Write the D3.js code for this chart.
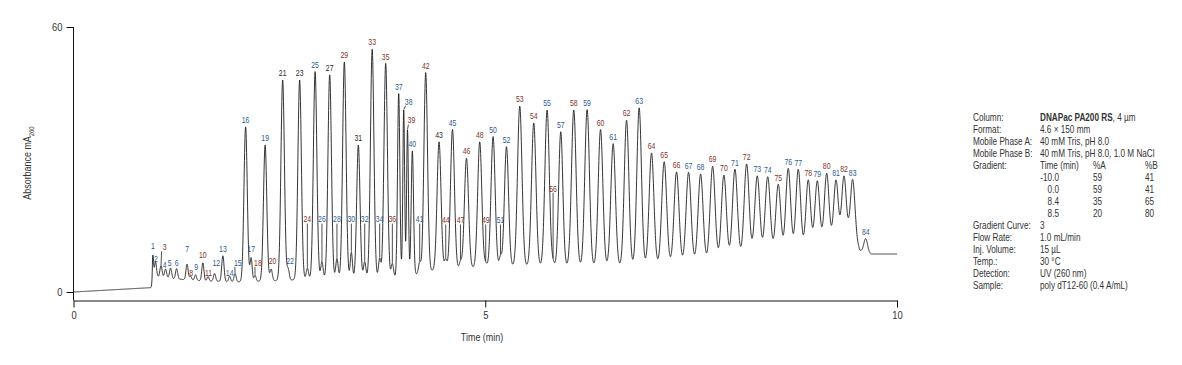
<!DOCTYPE html>
<html><head><meta charset="utf-8">
<script src="https://cdn.jsdelivr.net/npm/d3@7"></script>
<style>
body{margin:0;background:#fff;}
svg{display:block;}
text{font-family:'Liberation Sans',Arial,sans-serif;}
</style></head><body>
<svg id="chart" width="1182" height="365"></svg>
<script>
// ---- data ----
const peakTime = [0.964,0.996,1.063,1.118,1.179,1.252,1.379,1.422,1.482,1.571,
 1.634,1.713,1.814,1.896,1.962,2.090,2.157,2.205,2.327,2.400,
 2.540,2.606,2.746,2.840,2.934,3.017,3.111,3.199,3.289,3.374,
 3.459,3.536,3.627,3.718,3.791,3.872,3.949,4.010,4.056,4.115,
 4.204,4.277,4.439,4.520,4.602,4.772,4.699,4.933,5.006,5.095,
 5.185,5.258,5.419,5.589,5.751,5.824,5.917,6.075,6.237,6.400,
 6.553,6.716,6.869,7.019,7.173,7.323,7.469,7.615,7.761,7.898,
 8.032,8.174,8.303,8.430,8.558,8.679,8.801,8.922,9.032,9.146,
 9.259,9.356,9.462,9.620];
const peakHeight = [8.4,6.9,6.0,5.2,5.4,5.3,6.3,3.6,3.9,6.6,
 3.5,4.2,8.2,3.6,4.2,37.4,7.8,3.8,33.3,5.2,
 48.0,5.5,48.0,5.4,49.9,6.9,49.2,7.6,52.1,9.0,
 33.3,6.9,55.0,7.7,51.8,6.5,45.0,41.2,36.7,32.0,
 6.9,49.7,34.0,7.6,36.8,30.3,7.2,34.0,6.9,35.2,
 8.4,32.9,42.1,38.3,41.2,7.6,36.3,41.2,41.3,36.8,
 33.6,38.9,41.7,31.5,29.5,27.2,27.1,26.7,28.5,26.5,
 27.8,29.0,26.3,26.1,24.4,28.0,27.8,25.4,25.2,26.9,
 25.4,26.3,25.5,12.1];
const peakWidth = [0.008,0.012,0.013,0.013,0.013,0.013,0.013,0.012,0.012,0.013,
 0.012,0.013,0.014,0.012,0.013,0.020,0.013,0.012,0.020,0.014,
 0.021,0.014,0.021,0.014,0.021,0.014,0.021,0.014,0.021,0.013,
 0.020,0.014,0.021,0.014,0.021,0.014,0.014,0.011,0.011,0.014,
 0.014,0.022,0.024,0.014,0.024,0.025,0.014,0.025,0.014,0.025,
 0.014,0.025,0.027,0.027,0.027,0.014,0.025,0.028,0.028,0.028,
 0.028,0.028,0.028,0.029,0.030,0.030,0.030,0.030,0.030,0.030,
 0.030,0.030,0.030,0.030,0.029,0.029,0.028,0.027,0.027,0.027,
 0.026,0.026,0.026,0.022];
const baseTime  = [0,0.955,0.960,1.20,1.60,2.00,2.50,3.00,3.50,4.00,4.40,4.80,5.20,5.90,6.30,7.00,7.40,7.70,7.96,8.24,8.50,8.62,8.86,9.00,9.20,9.41,9.50,9.55,9.69,10.0];
const baseValue = [0,1.0,3.6,3.0,2.5,2.3,2.6,3.0,3.2,3.4,5.0,5.4,5.8,5.8,5.6,5.8,6.2,6.7,7.3,8.3,9.0,9.0,10.0,11.2,12.2,13.6,12.0,9.4,8.6,8.6];
const labelColorCode = "bbrbbbbrbr"+"rbbbbbbrbr"+"kbkrbbkbrb"+"kbrbrrbbrb"+"brkrbrrrrb"+"bbrrbrbrbr"+"brbrrrbbrr"+"brbbrbbrbr"+"brbb";
// label placement overrides: [time offset (min), label value (mA), leader line]
const labelPlace = {1:[0,10.4],2:[0.006,7.6],3:[0.043,10.2,1],4:[-0.012,6.2],5:[-0.012,6.7],6:[0,6.7],
 7:[0,9.7],8:[0.008,4.3],9:[0.008,5.8],10:[0,8.4],11:[0.006,4.4],12:[0.02,6.7],13:[0,9.7],14:[0,4.4],
 15:[0.034,6.7,1],17:[0,9.7],18:[0.034,6.7,1],20:[0.018,7.1],22:[0.024,7.1],
 24:[0,16.5,1],26:[0,16.5,1],28:[0,16.5,1],30:[0,16.5,1],32:[0,16.5,1],34:[0,16.5,1],36:[0,16.5,1],
 38:[0.06,43.2,1],39:[0.047,38.9,1],41:[0,16.5,1],44:[0,16.3,1],47:[0,16.3,1],49:[0,16.3,1],51:[0,16.3,1],56:[0,23.5,1]};
const xTicks = [0,5,10];
const yTicks = [0,60];
const gradTime = ["-10.0","0.0","8.4","8.5"];
const gradA = ["59","59","35","20"];
const gradB = ["41","41","65","80"];
const infoLabels = ["Column:","Format:","Mobile Phase A:","Mobile Phase B:","Gradient:"];
const infoValues = ["4.6 \u00d7 150 mm","40 mM Tris, pH 8.0","40 mM Tris, pH 8.0, 1.0 M NaCl"];
const infoLabels2 = ["Gradient Curve:","Flow Rate:","Inj. Volume:","Temp.:","Detection:","Sample:"];
const infoValues2 = ["3","1.0 mL/min","15 \u00b5L","30 \u00b0C","UV (260 nm)","poly dT12-60 (0.4 A/mL)"];

// ---- drawing ----
const svg = d3.select("#chart");
const x = d3.scaleLinear().domain([0,10]).range([73.5,897]);
const y = d3.scaleLinear().domain([0,60]).range([292,27]);
const base = d3.scaleLinear().domain(baseTime).range(baseValue).clamp(true);

// condensed text helper
function ctext(parent, px, py, s, sx, anchor){
  return parent.append("text").attr("transform",`translate(${px},${py}) scale(${sx},1)`)
    .attr("text-anchor",anchor||"start").text(s);
}

const peaks = peakTime.map((t,i)=>({n:i+1,t,v:peakHeight[i],s:peakWidth[i],h:0}));
const g = (t,p)=>{const d=(t-p.t)/p.s; return Math.abs(d)>7?0:Math.exp(-0.5*d*d);};
peaks.forEach(p=>p.h=Math.max(0.2,p.v-base(p.t)));
for(let it=0;it<20;it++){
  peaks.forEach(p=>{
    let o=0; peaks.forEach(q=>{if(q!==p)o+=q.h*g(p.t,q);});
    p.h=Math.max(0.2,p.v-base(p.t)-o);
  });
}
const samples=[];
for(let k=0;k<=5000;k++){
  const t=k*0.002; let v=base(t);
  peaks.forEach(p=>{v+=p.h*g(t,p);});
  samples.push([t,v]);
}
svg.append("path").datum(samples)
  .attr("d",d3.line().x(d=>x(d[0])).y(d=>y(d[1])))
  .attr("fill","none").attr("stroke","#1e1e1e").attr("stroke-width",0.9);

// axes
const ya = svg.append("g").attr("transform","translate(73.5,0)")
  .call(d3.axisLeft(y).tickValues(yTicks).tickSize(7).tickSizeOuter(0).tickPadding(4));
ya.select(".domain").remove();
ya.append("line").attr("x1",0).attr("x2",0).attr("y1",27).attr("y2",300.5).attr("stroke","#111");
const xa = svg.append("g").attr("transform","translate(0,300.5)")
  .call(d3.axisBottom(x).tickValues(xTicks).tickSize(7).tickSizeOuter(0).tickPadding(4));
[ya,xa].forEach(a=>{a.selectAll("text").attr("font-size",11).attr("fill","#333")
  .style("font-family","'Liberation Sans',Arial,sans-serif");
  a.selectAll("line").attr("stroke","#111");});
ya.selectAll("text").attr("transform","translate(-11,0) scale(0.85,1)").attr("x",null);
xa.selectAll("text").attr("transform","scale(0.85,1)");
xa.select(".domain").attr("stroke","#111");

svg.append("text").attr("transform","translate(31,163) rotate(-90) scale(0.85,1)").attr("text-anchor","middle")
  .attr("font-size",10.5).attr("fill","#333")
  .call(t=>{t.append("tspan").text("Absorbance mA");t.append("tspan").attr("font-size",7).attr("dy",2.5).text("260");});
ctext(svg,482,341,"Time (min)",0.85,"middle").attr("font-size",10.5).attr("fill","#333");

// peak labels
const colorMap={b:"#2c5b92",r:"#803424",k:"#2a2a2a"};
const lab = svg.append("g");
peaks.forEach(p=>{
  const pl = labelPlace[p.n];
  const ax=x(p.t), ay=y(p.v);
  const lx = pl? x(p.t+pl[0]) : ax;
  const ly = pl? y(pl[1]) : ay-7;
  if(pl && pl[2]){
    const sx = lx>ax+1.5 ? lx-3 : ax;
    lab.append("line").attr("x1",sx).attr("y1",ly+4.5).attr("x2",ax).attr("y2",ay-0.5)
      .attr("stroke","#222").attr("stroke-width",0.8);
  }
  ctext(lab,lx,ly+3.3,p.n,0.74,"middle")
    .attr("font-size",9.3).attr("fill",colorMap[labelColorCode[p.n-1]]);
});

// info panel
const info = svg.append("g").attr("font-size",10).attr("fill","#333");
const SX=0.82;
const rowY = i=>120.5+12.07*i;
infoLabels.forEach((s,i)=>ctext(info,973,rowY(i),s,SX));
ctext(info,1040,rowY(0),"",SX)
  .call(t=>{t.append("tspan").attr("font-weight","bold").text("DNAPac PA200 RS");t.append("tspan").text(", 4 \u00b5m");});
infoValues.forEach((s,i)=>ctext(info,1040,rowY(i+1),s,SX));
ctext(info,1040,rowY(4),"Time (min)",SX);
ctext(info,1093,rowY(4),"%A",SX);
ctext(info,1145,rowY(4),"%B",SX);
gradTime.forEach((s,i)=>{
  ctext(info,1059,rowY(5+i),s,SX,"end");
  ctext(info,1093,rowY(5+i),gradA[i],SX);
  ctext(info,1145,rowY(5+i),gradB[i],SX);
});
infoLabels2.forEach((s,i)=>{
  ctext(info,973,rowY(9+i),s,SX);
  ctext(info,1040,rowY(9+i),infoValues2[i],SX);
});
</script>
</body></html>
